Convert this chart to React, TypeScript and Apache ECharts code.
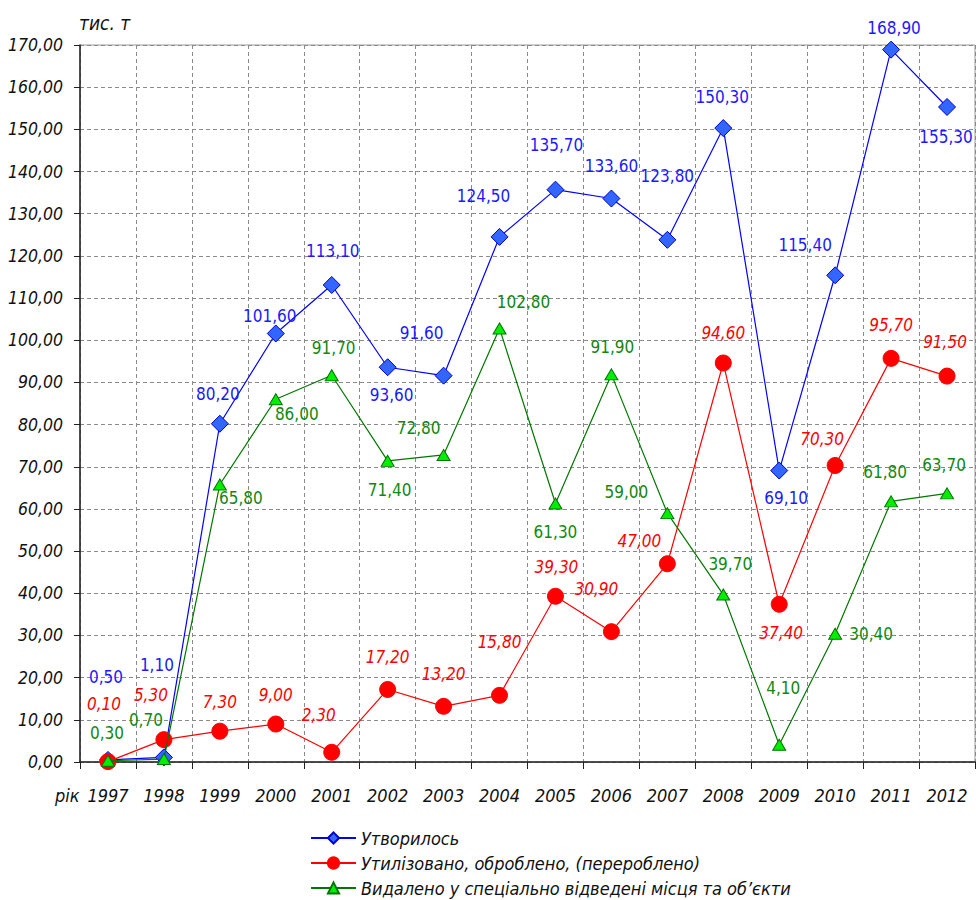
import React, { useEffect, useRef } from "react";
import * as echarts from "echarts";

const years = ["1997","1998","1999","2000","2001","2002","2003","2004","2005","2006","2007","2008","2009","2010","2011","2012"];
const formed = [0.5, 1.1, 80.2, 101.6, 113.1, 93.6, 91.6, 124.5, 135.7, 133.6, 123.8, 150.3, 69.1, 115.4, 168.9, 155.3];
const utilized = [0.1, 5.3, 7.3, 9.0, 2.3, 17.2, 13.2, 15.8, 39.3, 30.9, 47.0, 94.6, 37.4, 70.3, 95.7, 91.5];
const removed = [0.3, 0.7, 65.8, 86.0, 91.7, 71.4, 72.8, 102.8, 61.3, 91.9, 59.0, 39.7, 4.1, 30.4, 61.8, 63.7];
const seriesNames = [
  "Утворилось",
  "Утилізовано, оброблено, (перероблено)",
  "Видалено у спеціально відведені місця та об’єкти",
];

// label offsets (pixels, from point centre)
const formedOffsets = [[-2,-83],[-7,-92],[-2,-30],[-6,-17],[1,-34],[4,28],[-22,-43],[-16,-41],[1,-45],[0,-33],[0,-64],[-1,-31],[7,27],[-30,-30],[3,-22],[-1,30]];
const utilizedOffsets = [[-4,-58],[-13,-45],[0,-29],[0,-29],[-13,-37],[0,-32],[0,-32],[0,-53],[1,-29],[-15,-43],[-28,-23],[0,-30],[2,29],[-13,-26],[0,-33],[-2,-34]];
const removedOffsets = [[-1,-28],[-18,-39],[21,14],[21,15],[2,-27],[2,29],[-25,-27],[24,-26],[0,29],[1,-27],[-41,-21],[7,-31],[4,-57],[36,0],[-6,-29],[-3,-28]];

const FONT = "'DejaVu Sans Condensed', 'Liberation Sans Narrow', sans-serif";
const fmt = (v: number) => v.toFixed(2).replace(".", ",");

function build(values: number[], offsets: number[][], color: string, italic: boolean) {
  return values.map((v, i) => ({
    value: v,
    label: {
      show: true,
      position: "inside",
      offset: offsets[i],
      formatter: fmt(v),
      color,
      fontSize: 17,
      fontStyle: italic ? "italic" : "normal",
      fontFamily: FONT,
    },
  }));
}

export default function App() {
  const ref = useRef<HTMLDivElement>(null);
  useEffect(() => {
    if (!ref.current) return;
    const chart = echarts.init(ref.current, undefined, { renderer: "svg" });
    chart.setOption({
      animation: false,
      backgroundColor: "#ffffff",
      grid: { left: 80, right: 1, top: 45, bottom: 138, show: true, borderColor: "#9a9a9a", borderWidth: 1 },
      legend: {
        orient: "vertical",
        left: 305,
        top: 827,
        height: 200,
        itemWidth: 45,
        itemHeight: 14,
        itemGap: 7,
        padding: [2, 5],
        textStyle: { fontSize: 18, fontStyle: "italic", fontFamily: FONT, color: "#111" },
        data: seriesNames,
      },
      graphic: [
        { type: "text", left: 79, top: 13, style: { text: "тис. т", fontSize: 19, fontStyle: "italic", fontFamily: FONT, fill: "#111" } },
        { type: "text", left: 55, top: 786, style: { text: "рік", fontSize: 18, fontStyle: "italic", fontFamily: FONT, fill: "#111" } },
      ],
      xAxis: {
        type: "category",
        data: years,
        boundaryGap: true,
        axisLine: { lineStyle: { color: "#222", width: 1.5 } },
        axisTick: { show: true, length: 7, interval: 0, lineStyle: { color: "#222" } },
        axisLabel: { interval: 0, margin: 24, fontSize: 18, fontStyle: "italic", fontFamily: FONT, color: "#111" },
        splitLine: { show: true, interval: 0, lineStyle: { color: "#8a8a8a", type: [4, 3] } },
      },
      yAxis: {
        type: "value",
        min: 0,
        max: 170,
        interval: 10,
        axisLine: { show: true, lineStyle: { color: "#222", width: 1.5 } },
        axisTick: { show: true, length: 6, lineStyle: { color: "#222" } },
        axisLabel: { margin: 17, fontSize: 17.5, fontStyle: "italic", fontFamily: FONT, color: "#111", formatter: (v: number) => fmt(v) },
        splitLine: { show: true, lineStyle: { color: "#8a8a8a", type: [4, 3] } },
      },
      series: [
        {
          name: seriesNames[0],
          type: "line",
          data: build(formed, formedOffsets, "#1a1aff", false),
          symbol: "diamond",
          symbolSize: 17,
          lineStyle: { color: "#0000ff", width: 1.2 },
          itemStyle: { color: "#3366ff", borderColor: "#0000cc", borderWidth: 1 },
          z: 2,
        },
        {
          name: seriesNames[1],
          type: "line",
          data: build(utilized, utilizedOffsets, "#ff0000", true),
          symbol: "circle",
          symbolSize: 16,
          lineStyle: { color: "#ff0000", width: 1.2 },
          itemStyle: { color: "#ff0000", borderColor: "#ff0000", borderWidth: 1 },
          z: 3,
        },
        {
          name: seriesNames[2],
          type: "line",
          data: build(removed, removedOffsets, "#118811", false),
          symbol: "triangle",
          symbolSize: [13, 11],
          lineStyle: { color: "#007700", width: 1.2 },
          itemStyle: { color: "#00ee00", borderColor: "#007700", borderWidth: 1 },
          z: 4,
        },
      ],
    });
    return () => chart.dispose();
  }, []);
  return <div ref={ref} style={{ position: "fixed", left: 0, top: 0, width: 976, height: 900 }} />;
}
